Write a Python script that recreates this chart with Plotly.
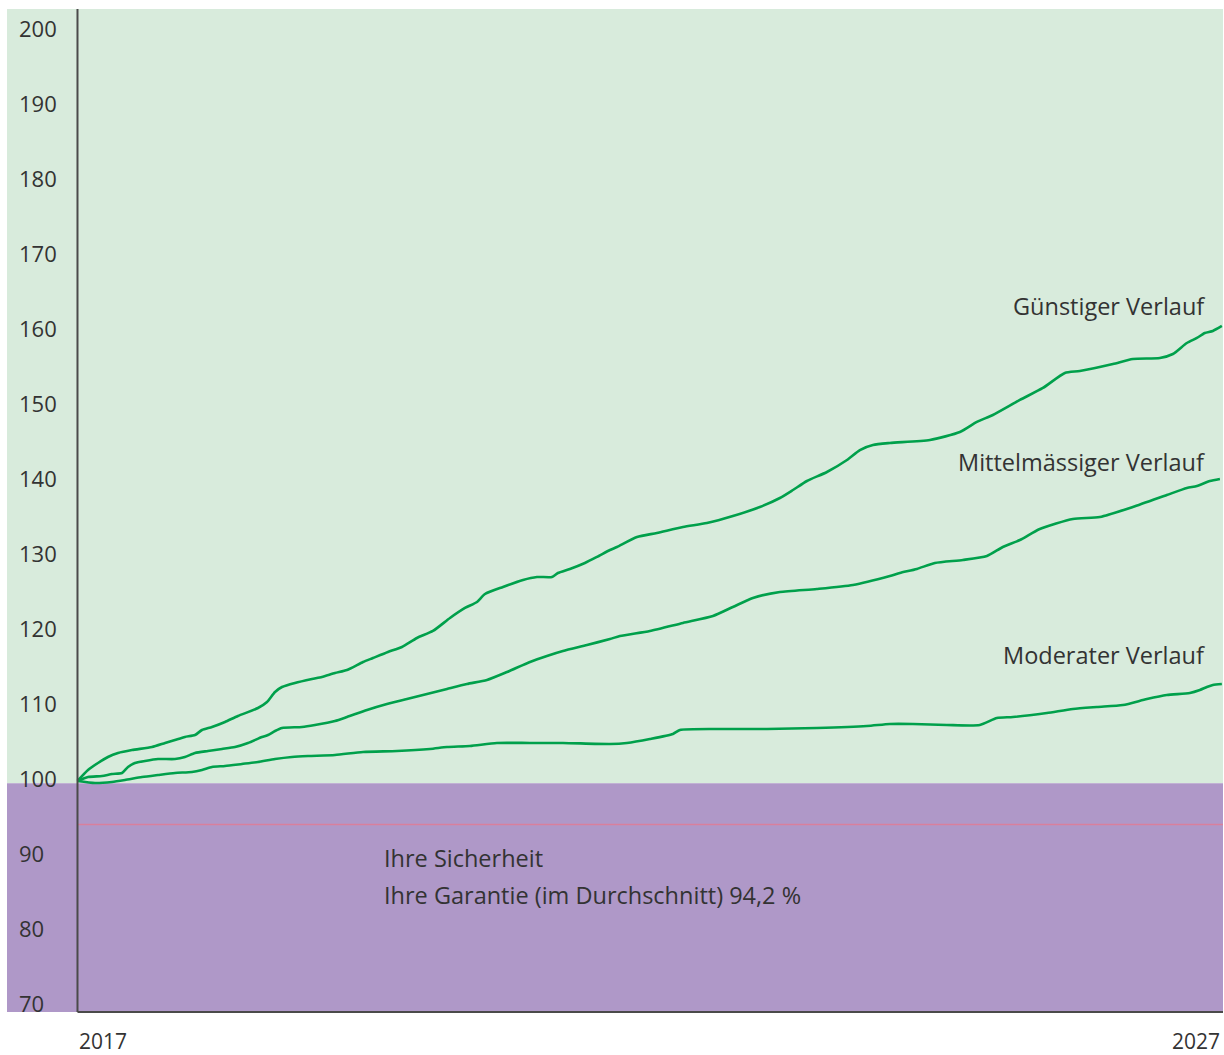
import plotly.graph_objects as go

# ---- data (years, index values) ----
guenstig_x = [2017.0, 2017.092, 2017.179, 2017.266, 2017.354, 2017.476, 2017.651, 2017.765, 2017.852, 2017.939,
              2018.027, 2018.088, 2018.175, 2018.289, 2018.402, 2018.577, 2018.656, 2018.726, 2018.787, 2018.900,
              2019.049, 2019.136, 2019.250, 2019.355, 2019.495, 2019.582, 2019.713, 2019.835, 2019.966, 2020.106,
              2020.255, 2020.386, 2020.491, 2020.561, 2020.718, 2020.893, 2021.015, 2021.146, 2021.198, 2021.303,
              2021.434, 2021.539, 2021.653, 2021.714, 2021.889, 2022.063, 2022.291, 2022.500, 2022.727, 2022.963,
              2023.138, 2023.252, 2023.374, 2023.549, 2023.724, 2023.837, 2023.951, 2024.099, 2024.449, 2024.711,
              2024.859, 2024.999, 2025.235, 2025.436, 2025.628, 2025.759, 2026.048, 2026.222, 2026.458, 2026.572,
              2026.694, 2026.782, 2026.851, 2026.921, 2027.0]
guenstig_y = [100.0, 101.47, 102.4, 103.2, 103.73, 104.13, 104.53, 105.07, 105.47, 105.87,
              106.13, 106.8, 107.2, 107.87, 108.67, 109.73, 110.53, 111.87, 112.53, 113.07,
              113.6, 113.87, 114.4, 114.8, 115.87, 116.4, 117.2, 117.87, 119.07, 120.0,
              121.73, 123.07, 123.87, 124.93, 125.87, 126.8, 127.2, 127.2, 127.73, 128.27,
              129.07, 129.87, 130.8, 131.2, 132.53, 133.07, 133.87, 134.4, 135.33, 136.53,
              137.73, 138.8, 140.0, 141.2, 142.8, 144.13, 144.8, 145.07, 145.47, 146.53,
              147.87, 148.8, 150.8, 152.4, 154.4, 154.67, 155.6, 156.27, 156.4, 156.93,
              158.4, 159.07, 159.73, 160.0, 160.67]

mittel_x = [2017.0, 2017.092, 2017.214, 2017.301, 2017.389, 2017.441, 2017.502, 2017.590, 2017.703, 2017.852,
            2017.939, 2018.027, 2018.140, 2018.263, 2018.376, 2018.490, 2018.612, 2018.665, 2018.726, 2018.787,
            2018.962, 2019.075, 2019.250, 2019.355, 2019.530, 2019.704, 2019.879, 2020.054, 2020.229, 2020.403,
            2020.578, 2020.753, 2020.954, 2021.102, 2021.242, 2021.452, 2021.653, 2021.740, 2022.002, 2022.291,
            2022.553, 2022.727, 2022.902, 2023.138, 2023.461, 2023.776, 2024.099, 2024.186, 2024.335, 2024.492,
            2024.737, 2024.947, 2025.086, 2025.235, 2025.409, 2025.698, 2025.934, 2026.222, 2026.519, 2026.694,
            2026.782, 2026.895, 2026.983]
mittel_y = [100.0, 100.53, 100.67, 100.93, 101.07, 101.87, 102.4, 102.67, 102.93, 102.93,
            103.2, 103.73, 104.0, 104.27, 104.53, 105.07, 105.87, 106.13, 106.67, 107.07,
            107.2, 107.47, 108.0, 108.53, 109.47, 110.27, 110.93, 111.6, 112.27, 112.93,
            113.47, 114.53, 115.87, 116.67, 117.33, 118.13, 118.93, 119.33, 120.0, 121.07,
            122.0, 123.2, 124.4, 125.2, 125.6, 126.13, 127.33, 127.73, 128.27, 129.07,
            129.47, 130.0, 131.2, 132.13, 133.6, 134.93, 135.2, 136.53, 138.13, 139.07,
            139.33, 140.0, 140.27]

moderat_x = [2017.0, 2017.153, 2017.301, 2017.415, 2017.564, 2017.703, 2017.852, 2018.000, 2018.088, 2018.175,
             2018.289, 2018.437, 2018.577, 2018.726, 2018.874, 2019.014, 2019.250, 2019.495, 2019.792, 2020.080,
             2020.229, 2020.429, 2020.665, 2020.954, 2021.242, 2021.653, 2021.801, 2022.002, 2022.203, 2022.264,
             2022.588, 2023.025, 2023.461, 2023.898, 2024.099, 2024.300, 2024.597, 2024.885, 2025.034, 2025.174,
             2025.471, 2025.698, 2025.908, 2026.135, 2026.345, 2026.519, 2026.720, 2026.808, 2026.869, 2026.921,
             2027.0]
moderat_y = [100.0, 99.73, 99.87, 100.13, 100.53, 100.8, 101.07, 101.2, 101.47, 101.87,
             102.0, 102.27, 102.53, 102.93, 103.2, 103.33, 103.47, 103.87, 104.0, 104.27,
             104.53, 104.67, 105.07, 105.07, 105.07, 104.93, 105.07, 105.6, 106.27, 106.8,
             106.93, 106.93, 107.07, 107.33, 107.6, 107.6, 107.47, 107.47, 108.4, 108.53,
             109.07, 109.6, 109.87, 110.13, 110.93, 111.47, 111.73, 112.13, 112.53, 112.8,
             112.93]

series_names = ["Günstiger Verlauf", "Mittelmässiger Verlauf", "Moderater Verlauf"]
y_ticks = [70, 80, 90, 100, 110, 120, 130, 140, 150, 160, 170, 180, 190, 200]
x_labels = ["2017", "2027"]
start_year, end_year = 2017, 2027
garantie = 94.2
sicherheit_text = ["Ihre Sicherheit", "Ihre Garantie (im Durchschnitt) 94,2 %"]

# ---- styles ----
FONT = "Open Sans"
TXT = "#333333"
GREEN_LINE = "#00a04b"
GREEN_BG = "#d8ebdc"
PURPLE_BG = "#af98c8"
RED = "#d97f9c"
AXIS = "#4a4a4a"

Y_MIN, Y_MAX = 69.2, 202.93
X_MIN, X_MAX = 2016.384, 2027.01
BOUNDARY = 99.7

fig = go.Figure()
for xs, ys, name in zip([guenstig_x, mittel_x, moderat_x], [guenstig_y, mittel_y, moderat_y], series_names):
    fig.add_trace(go.Scatter(x=xs, y=ys, mode="lines", name=name,
                             line=dict(color=GREEN_LINE, width=2.6, shape="spline", smoothing=0.6),
                             hoverinfo="skip", showlegend=False))

shapes = [
    dict(type="rect", xref="paper", yref="y", x0=0, x1=1, y0=BOUNDARY, y1=Y_MAX,
         fillcolor=GREEN_BG, line=dict(width=0), layer="below"),
    dict(type="rect", xref="paper", yref="y", x0=0, x1=1, y0=Y_MIN, y1=BOUNDARY,
         fillcolor=PURPLE_BG, line=dict(width=0), layer="below"),
    dict(type="line", xref="x", yref="y", x0=start_year, x1=X_MAX, y0=garantie, y1=garantie,
         line=dict(color=RED, width=1.5), layer="below"),
    dict(type="line", xref="x", yref="paper", x0=start_year, x1=start_year, y0=0, y1=1,
         line=dict(color=AXIS, width=2)),
    dict(type="line", xref="x", yref="paper", x0=start_year, x1=X_MAX, y0=0, y1=0,
         line=dict(color=AXIS, width=2)),
]

annotations = [
    dict(x=start_year, y=0, xref="x", yref="paper", text=x_labels[0], showarrow=False,
         xanchor="left", yanchor="middle", yshift=-29, xshift=0, font=dict(family=FONT, size=21, color=TXT)),
    dict(x=end_year, y=0, xref="x", yref="paper", text=x_labels[1], showarrow=False,
         xanchor="right", yanchor="middle", yshift=-29, font=dict(family=FONT, size=21, color=TXT)),
]
# y tick labels drawn inside the coloured band
for v in y_ticks:
    annotations.append(dict(x=0, y=v, xref="paper", yref="y", text=str(v), showarrow=False,
                            xanchor="left", yanchor="middle", xshift=10, yshift=3,
                            font=dict(family=FONT, size=22, color=TXT)))
label_pos = [163.3, 142.5, 116.8]
for name, yv in zip(series_names, label_pos):
    annotations.append(dict(x=2026.87, y=yv, xref="x", yref="y", text=name, showarrow=False,
                            xanchor="right", yanchor="middle", font=dict(family=FONT, size=23.5, color=TXT)))
for txt, yv in zip(sicherheit_text, [89.7, 84.8]):
    annotations.append(dict(x=2019.66, y=yv, xref="x", yref="y", text=txt, showarrow=False,
                            xanchor="left", yanchor="middle", font=dict(family=FONT, size=23.5, color=TXT)))

fig.update_layout(
    width=1224, height=1055,
    margin=dict(l=7, r=1, t=9, b=43, pad=0),
    paper_bgcolor="white", plot_bgcolor="rgba(0,0,0,0)",
    shapes=shapes, annotations=annotations,
    xaxis=dict(range=[X_MIN, X_MAX], showgrid=False, zeroline=False, showticklabels=False,
               showline=False, ticks=""),
    yaxis=dict(range=[Y_MIN, Y_MAX], showgrid=False, zeroline=False, showline=False, ticks="",
               showticklabels=False),
    hovermode=False,
)

fig.write_html("out.html", post_script="document.body.style.margin='0';",
               config={"displayModeBar": False})
